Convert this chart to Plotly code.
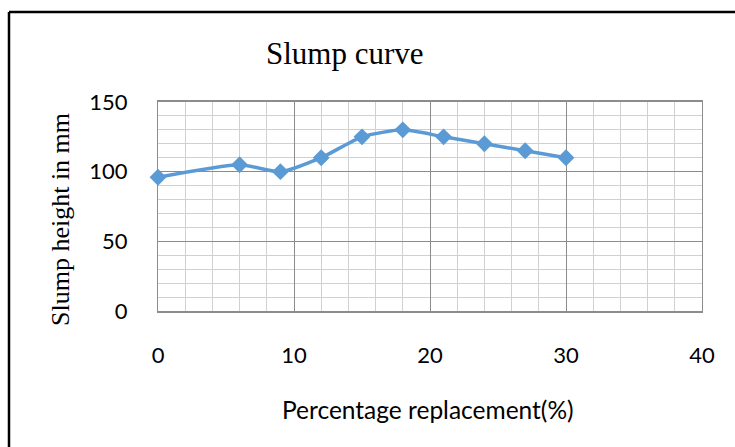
import plotly.graph_objects as go

replacement = [0, 6, 9, 12, 15, 18, 21, 24, 27, 30]
slump = [96, 105, 100, 110, 125, 130, 125, 120, 115, 110]

x_ticks = [0, 10, 20, 30, 40]
y_ticks = [0, 50, 100, 150]

W, H = 735, 447
L, R, T, B = 158, 33, 102, 136
pw, ph = W - L - R, H - T - B

def px(x):
    return (x - L) / pw

def py(y):
    return (H - B - y) / ph

fig = go.Figure()
fig.add_trace(go.Scatter(
    x=replacement, y=slump, mode="lines+markers",
    line=dict(color="#5B9BD5", width=3.5, shape="spline", smoothing=0.6),
    marker=dict(symbol="diamond", size=13, color="#5B9BD5"),
    showlegend=False, cliponaxis=False,
))

tickfont = dict(family="Lato, Liberation Sans, sans-serif", size=22, color="#000000")

fig.update_layout(
    width=W, height=H,
    margin=dict(l=L, r=R, t=T, b=B),
    paper_bgcolor="white", plot_bgcolor="white",
    xaxis=dict(
        range=[0, 40], tickvals=x_ticks, ticktext=[str(v) for v in x_ticks],
        showgrid=True, gridcolor="#8C8C8C", gridwidth=1,
        minor=dict(dtick=2, showgrid=True, gridcolor="#D0D0D0", gridwidth=1),
        showline=True, linecolor="#8C8C8C", linewidth=2, mirror=True,
        zeroline=False, ticks="", tickfont=tickfont, ticklabelstandoff=24,
        fixedrange=True,
    ),
    yaxis=dict(
        range=[0, 150], tickvals=y_ticks, ticktext=[str(v) for v in y_ticks],
        showgrid=True, gridcolor="#8C8C8C", gridwidth=1,
        minor=dict(dtick=10, showgrid=True, gridcolor="#D0D0D0", gridwidth=1),
        showline=True, linecolor="#8C8C8C", linewidth=1, mirror=True,
        zeroline=False, ticks="", tickfont=tickfont, ticklabelstandoff=25,
        fixedrange=True,
    ),
)

fig.add_annotation(text="Slump curve", xref="paper", yref="paper",
                   x=px(345), y=py(54), xanchor="center", yanchor="middle",
                   showarrow=False,
                   font=dict(family="Liberation Serif, Times New Roman, serif", size=31, color="#000000"))
fig.add_annotation(text="Slump height in mm", xref="paper", yref="paper",
                   x=px(60), y=py(220), xanchor="center", yanchor="middle",
                   showarrow=False, textangle=-90,
                   font=dict(family="Liberation Serif, Times New Roman, serif", size=26, color="#000000"))
fig.add_annotation(text="Percentage replacement(%)", xref="paper", yref="paper",
                   x=px(428), y=py(409), xanchor="center", yanchor="middle",
                   showarrow=False,
                   font=dict(family="Lato, Liberation Sans, sans-serif", size=24.5, color="#000000"))

# outer frame (left and top edges visible)
fig.add_shape(type="line", xref="paper", yref="paper",
              x0=px(9), x1=px(9), y0=py(12), y1=py(H + 5),
              line=dict(color="black", width=2.5))
fig.add_shape(type="line", xref="paper", yref="paper",
              x0=px(9), x1=px(W + 5), y0=py(12), y1=py(12),
              line=dict(color="black", width=2.5))

fig.write_html("out.html")
